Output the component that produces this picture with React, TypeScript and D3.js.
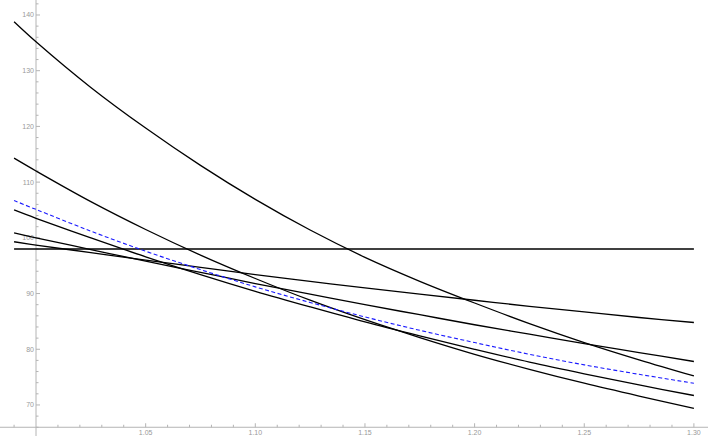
import React from "react";
import * as d3 from "d3";

const xs = [0.99, 1.0, 1.025, 1.05, 1.075, 1.1, 1.125, 1.15, 1.175, 1.2, 1.225, 1.25, 1.275, 1.3];
const seriesA = [138.8, 135.2, 127.0, 119.7, 113.0, 106.9, 101.4, 96.5, 92.2, 88.3, 84.6, 81.2, 78.1, 75.2];
const seriesB = [114.3, 112.0, 106.5, 101.5, 96.9, 92.7, 88.8, 85.3, 82.1, 79.1, 76.4, 73.9, 71.6, 69.4];
const seriesC = [105.0, 103.5, 100.0, 96.6, 93.4, 90.4, 87.6, 84.9, 82.4, 80.0, 77.7, 75.6, 73.6, 71.7];
const seriesD = [99.3, 98.7, 97.35, 96.0, 94.7, 93.4, 92.2, 91.0, 89.9, 88.8, 87.7, 86.7, 85.7, 84.8];
const seriesE = [100.9, 100.0, 97.9, 95.8, 93.8, 91.8, 89.9, 88.0, 86.2, 84.4, 82.7, 81.0, 79.4, 77.8];
const seriesH = [98.0, 98.0, 98.0, 98.0, 98.0, 98.0, 98.0, 98.0, 98.0, 98.0, 98.0, 98.0, 98.0, 98.0];
const seriesBlue = [106.7, 105.1, 101.2, 97.6, 94.3, 91.2, 88.4, 85.8, 83.4, 81.2, 79.1, 77.2, 75.5, 73.9];

const xTickLabels = ["1.05", "1.10", "1.15", "1.20", "1.25", "1.30"];
const yTickLabels = ["70", "80", "90", "100", "110", "120", "130", "140"];

const W = 708;
const H = 436;

export default function App() {
  const x = d3.scaleLinear().domain([0.98358, 1.30643]).range([0, W]);
  const y = d3.scaleLinear().domain([64.43, 142.69]).range([H, 0]);
  const axisY = y(66);
  const axisX = x(1.0);

  const line = d3
    .line<number>()
    .x((_, i) => x(xs[i]))
    .y((d) => y(d))
    .curve(d3.curveCatmullRom.alpha(0.5));

  const blacks = [seriesH, seriesA, seriesB, seriesC, seriesD, seriesE];

  const xMinor = d3.range(98, 131).map((v) => v / 100);
  const yMinor = d3.range(66, 143, 2);

  const tickColor = "#b4b4b4";
  const labelColor = "#999999";
  const font = "'Liberation Sans', 'DejaVu Sans', sans-serif";

  return (
    <svg
      width={W}
      height={H}
      style={{ position: "absolute", left: 0, top: 0, background: "#fff" }}
    >
      <line x1={0} x2={W} y1={axisY} y2={axisY} stroke={tickColor} strokeWidth={1} />
      <line x1={axisX} x2={axisX} y1={0} y2={H} stroke={tickColor} strokeWidth={1} />
      {xMinor.map((v, i) => {
        const major = Math.round(v * 100) % 5 === 0;
        if (Math.abs(v - 1.0) < 1e-9) return null;
        return (
          <line
            key={"xm" + i}
            x1={x(v)}
            x2={x(v)}
            y1={axisY}
            y2={axisY - (major ? 4 : 2.5)}
            stroke={tickColor}
            strokeWidth={1}
          />
        );
      })}
      {yMinor.map((v, i) => {
        const major = v % 10 === 0;
        return (
          <line
            key={"ym" + i}
            x1={axisX}
            x2={axisX + (major ? 4 : 2.5)}
            y1={y(v)}
            y2={y(v)}
            stroke={tickColor}
            strokeWidth={1}
          />
        );
      })}
      <g opacity={0.99}>
        {xTickLabels.map((t) => (
          <text
            key={"xl" + t}
            x={x(parseFloat(t))}
            y={axisY + 7.5}
            fontSize={7}
            fontFamily={font}
            fill={labelColor}
            textAnchor="middle"
          >
            {t}
          </text>
        ))}
        {yTickLabels.map((t) => (
          <text
            key={"yl" + t}
            x={axisX - 2}
            y={y(parseFloat(t)) + 2.5}
            fontSize={7}
            fontFamily={font}
            fill={labelColor}
            textAnchor="end"
          >
            {t}
          </text>
        ))}
      </g>
      {blacks.map((s, i) => (
        <path
          key={"s" + i}
          d={line(s) || ""}
          fill="none"
          stroke="#000"
          strokeWidth={1.3}
        />
      ))}
      <path
        d={line(seriesBlue) || ""}
        fill="none"
        stroke="#1a1aff"
        strokeWidth={1.1}
        strokeDasharray="4,2.5"
      />
    </svg>
  );
}
